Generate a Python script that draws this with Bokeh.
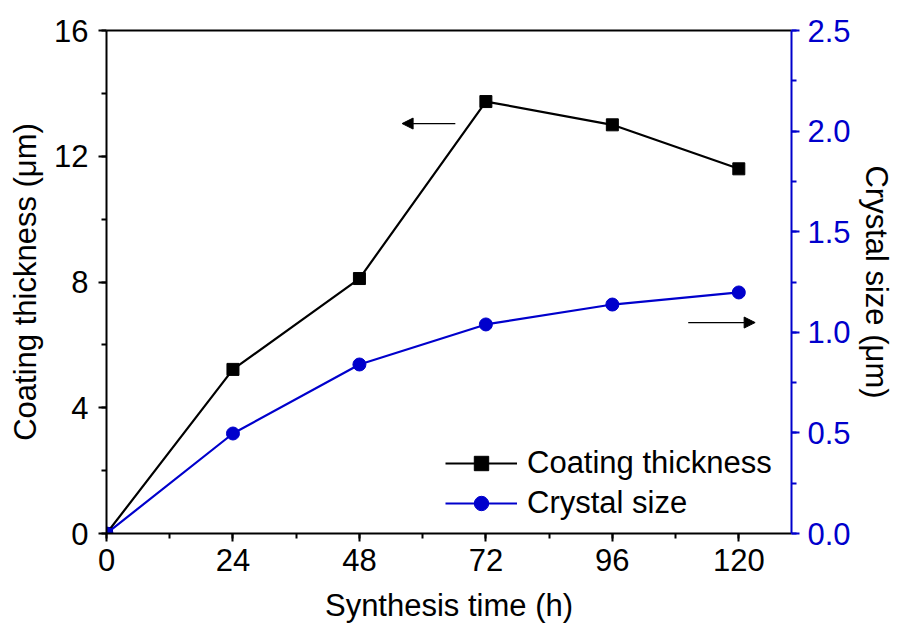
from bokeh.plotting import figure
from bokeh.models import (Range1d, LinearAxis, SingleIntervalTicker, NumeralTickFormatter,
                          Arrow, NormalHead, Legend, LegendItem, FixedTicker)
from bokeh.embed import file_html
from bokeh.resources import INLINE

time_h = [0, 24, 48, 72, 96, 120]
coating_thickness = [0, 5.22, 8.11, 13.74, 13.0, 11.6]
crystal_size = [0, 0.497, 0.84, 1.039, 1.138, 1.198]

FONT = "Liberation Sans"
FS = "31px"
BLUE = "#0000CC"

p = figure(width=898, height=634, output_backend="svg", toolbar_location=None,
           x_range=Range1d(0, 130), y_range=Range1d(0, 16),
           min_border_left=106, min_border_right=107, min_border_top=30, min_border_bottom=101)
p.outline_line_color = None
p.grid.visible = False
p.background_fill_color = "white"
p.border_fill_color = "white"

p.extra_y_ranges = {"right": Range1d(0, 2.5)}

def style(ax, color="black"):
    ax.axis_line_color = color
    ax.axis_line_width = 2
    ax.major_tick_line_color = color
    ax.minor_tick_line_color = color
    ax.major_tick_line_width = 2
    ax.minor_tick_line_width = 2
    ax.major_tick_out = 8
    ax.major_tick_in = 0
    ax.minor_tick_out = 5
    ax.minor_tick_in = 0
    ax.major_label_text_font = FONT
    ax.major_label_text_font_size = FS
    ax.major_label_text_color = color
    ax.axis_label_text_font = FONT
    ax.axis_label_text_font_size = FS
    ax.axis_label_text_font_style = "normal"
    ax.axis_label_text_color = "black"

xa = p.xaxis[0]
xa.ticker = SingleIntervalTicker(interval=24, num_minor_ticks=2)
xa.axis_label = "Synthesis time (h)"
style(xa)
xa.major_label_standoff = 7
xa.axis_label_standoff = 14

ya = p.yaxis[0]
ya.ticker = SingleIntervalTicker(interval=4, num_minor_ticks=2)
ya.axis_label = "Coating thickness (μm)"
style(ya)
ya.major_label_standoff = 10
ya.axis_label_standoff = 8

ra = LinearAxis(y_range_name="right", axis_label="Crystal size (μm)",
                ticker=SingleIntervalTicker(interval=0.5, num_minor_ticks=2),
                formatter=NumeralTickFormatter(format="0.0"))
style(ra, BLUE)
ra.major_label_standoff = 8
ra.axis_label_standoff = 5
p.add_layout(ra, "right")

top = LinearAxis(ticker=FixedTicker(ticks=[]))
top.axis_line_width = 2
top.axis_line_color = "black"
top.major_label_text_font_size = "0px"
top.major_tick_out = 0
top.minor_tick_out = 0
p.add_layout(top, "above")

l1 = p.line(time_h, coating_thickness, line_color="black", line_width=2.2)
m1 = p.scatter(time_h, coating_thickness, marker="square", size=12, fill_color="black", line_color="black")
l2 = p.line(time_h, crystal_size, line_color=BLUE, line_width=2.2, y_range_name="right")
m2 = p.scatter(time_h, crystal_size, marker="circle", size=13, fill_color=BLUE, line_color=BLUE, y_range_name="right")

p.add_layout(Arrow(end=NormalHead(size=11, fill_color="black", line_color="black", line_width=1),
                   x_start=66.2, y_start=13.04, x_end=56.1, y_end=13.04,
                   line_color="black", line_width=1.2))
p.add_layout(Arrow(end=NormalHead(size=11, fill_color="black", line_color="black", line_width=1),
                   x_start=110.4, y_start=6.71, x_end=123.1, y_end=6.71,
                   line_color="black", line_width=1.2))

legend = Legend(items=[LegendItem(label="Coating thickness", renderers=[l1, m1]),
                       LegendItem(label="Crystal size", renderers=[l2, m2])],
                location=(339, 12))
legend.border_line_color = None
legend.background_fill_alpha = 0
legend.label_text_font = FONT
legend.label_text_font_size = FS
legend.label_text_color = "black"
legend.glyph_width = 72
legend.glyph_height = 36
legend.label_height = 36
legend.spacing = 4
legend.label_standoff = 10
legend.padding = 0
legend.margin = 0
p.add_layout(legend, "center")

open("out.html", "w").write(file_html(p, INLINE))
